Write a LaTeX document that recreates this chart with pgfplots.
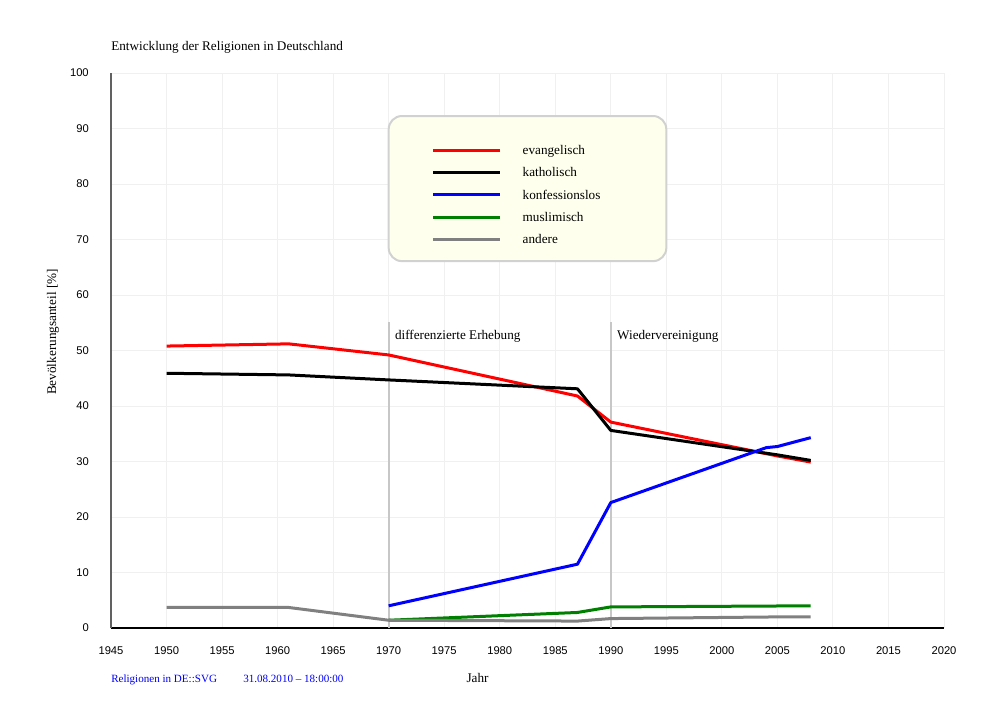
\documentclass[border=0pt]{standalone}
\usepackage{fontspec}
\setmainfont{Liberation Serif}
\setsansfont{Liberation Sans}
\usepackage{pgfplots}
\pgfplotsset{compat=1.18}
\definecolor{legfill}{RGB}{255,255,238}
\definecolor{ggreen}{RGB}{0,128,0}
\definecolor{ggray}{RGB}{128,128,128}
\begin{document}
\fontsize{9.9}{11}\selectfont
\begin{tikzpicture}[x=0.75pt,y=-0.75pt]
\path[use as bounding box] (0,0) rectangle (1000,722);
\node[anchor=base west, inner sep=0pt] at (111,50) {Entwicklung der Religionen in Deutschland};
\node[rotate=90, inner sep=0pt] at (53,332) {Bevölkerungsanteil [\%]};
\node[anchor=base west, inner sep=0pt, text=blue, font=\fontsize{8.3}{10}\selectfont] at (111,682.5) {Religionen in DE::SVG};
\node[anchor=base west, inner sep=0pt, text=blue, font=\fontsize{8.3}{10}\selectfont] at (243,682.5) {31.08.2010 -- 18:00:00};
\node[anchor=base, inner sep=0pt] at (477.5,682.5) {Jahr};
\begin{axis}[
  at={(83.25pt,-471pt)}, anchor=south west,
  scale only axis, width=624.75pt, height=416.25pt,
  xmin=1945, xmax=2020, ymin=0, ymax=100,
  xtick={1945,1950,...,2020}, ytick={0,10,...,100},
  axis x line=bottom, axis y line=left,
  x axis line style={-, black, line width=1.1pt},
  y axis line style={-, black!62, line width=1.5pt},
  major tick length=0pt,
  grid=major, grid style={black!6, line width=0.75pt},
  ticklabel style={font=\sffamily\fontsize{8.4}{9}\selectfont, inner sep=0pt},
  yticklabel style={xshift=-16.5pt},
  xticklabel style={yshift=-13.5pt},
  /pgf/number format/assume math mode=true,
  /pgf/number format/1000 sep={},
  legend style={draw=none, fill=none, at={(axis cs:1973.9,87)}, anchor=north west,
    inner sep=0pt, outer sep=0pt, row sep=7.7pt, column sep=15.8pt,
    nodes={inner sep=0pt, text height=7pt, text depth=2pt},
    cells={anchor=base west}, font=\fontsize{9.9}{11}\selectfont},
  legend image code/.code={\draw[#1] (0pt,3.2pt) -- (50pt,3.2pt);},
  every axis plot/.append style={line width=2.25pt, line join=round},
]
\draw[black!22, line width=1.3pt] (axis cs:1970,0) -- (axis cs:1970,55.1);
\draw[black!22, line width=1.3pt] (axis cs:1990,0) -- (axis cs:1990,55.1);
\node[anchor=base west, inner sep=0pt] at (axis cs:1970.55,52) {differenzierte Erhebung};
\node[anchor=base west, inner sep=0pt] at (axis cs:1990.55,52) {Wiedervereinigung};
\draw[rounded corners=10pt, draw=black!18, line width=1.5pt, fill=legfill] (axis cs:1970,92.25) rectangle (axis cs:1995,66.1);
\addplot[red] coordinates {(1950,50.8) (1961,51.2) (1970,49.2) (1987,41.8) (1990,37.1) (2005,31.0) (2008,29.9)};
\addlegendentry{evangelisch}
\addplot[black] coordinates {(1950,45.9) (1961,45.6) (1970,44.7) (1987,43.1) (1990,35.6) (2005,31.2) (2008,30.2)};
\addlegendentry{katholisch}
\addplot[blue] coordinates {(1970,4.0) (1987,11.5) (1990,22.6) (2004,32.5) (2005,32.7) (2008,34.3)};
\addlegendentry{konfessionslos}
\addplot[ggreen] coordinates {(1970,1.4) (1987,2.8) (1990,3.8) (2008,4.0)};
\addlegendentry{muslimisch}
\addplot[ggray] coordinates {(1950,3.7) (1961,3.7) (1970,1.4) (1987,1.25) (1990,1.7) (2005,2.0) (2008,2.0)};
\addlegendentry{andere}
\end{axis}
\end{tikzpicture}
\end{document}
